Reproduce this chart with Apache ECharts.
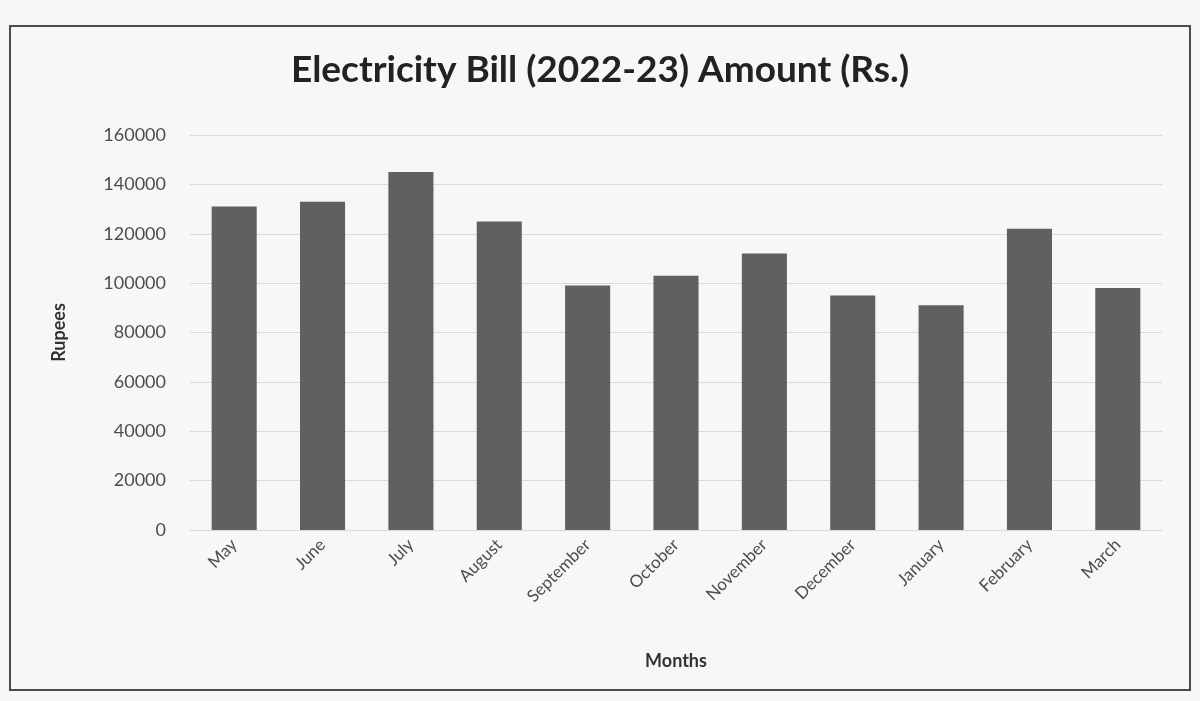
<!DOCTYPE html>
<html>
<head>
<meta charset="utf-8">
<title>Electricity Bill (2022-23)</title>
<script src="https://cdn.jsdelivr.net/npm/echarts@6/dist/echarts.min.js"></script>
<style>
  html, body { margin: 0; padding: 0; background: #f4f4f6; }
  #chart { width: 1200px; height: 701px; }
</style>
</head>
<body>
<div id="chart"></div>
<script>
// values
const months = ['May', 'June', 'July', 'August', 'September', 'October',
  'November', 'December', 'January', 'February', 'March'];
const amounts = [131000, 133000, 145000, 125000, 99000, 103000,
  112000, 95000, 91000, 122000, 98000];
const yTicks = [0, 20000, 40000, 60000, 80000, 100000, 120000, 140000, 160000];

const font = 'Lato, "Open Sans", sans-serif';
const chart = echarts.init(document.getElementById('chart'));

chart.setOption({
  backgroundColor: '#f7f7f9',
  textStyle: { fontFamily: font },
  graphic: [
    {
      type: 'rect',
      shape: { x: 10, y: 26, width: 1180, height: 664 },
      style: { fill: 'none', stroke: '#4a4a4a', lineWidth: 2 },
      z: -1
    }
  ],
  title: {
    text: 'Electricity Bill (2022-23) Amount (Rs.)',
    left: 'center',
    top: 47,
    textStyle: { fontFamily: font, fontSize: 37, fontWeight: 'bold', color: '#222' }
  },
  grid: { left: 190, right: 38, top: 135, bottom: 171 },
  xAxis: {
    type: 'category',
    data: months,
    name: 'Months',
    nameLocation: 'middle',
    nameGap: 122,
    nameTextStyle: { fontFamily: font, fontSize: 18, fontWeight: 'bold', color: '#333' },
    axisLine: { lineStyle: { color: '#d9d9d9' } },
    axisTick: { show: false },
    axisLabel: { rotate: 45, fontSize: 17, color: '#4d4d4d', margin: 12 }
  },
  yAxis: {
    type: 'value',
    min: yTicks[0],
    max: yTicks[yTicks.length - 1],
    interval: yTicks[1] - yTicks[0],
    name: 'Rupees',
    nameLocation: 'middle',
    nameGap: 122,
    nameTextStyle: { fontFamily: font, fontSize: 18, fontWeight: 'bold', color: '#333' },
    axisLine: { show: false },
    axisTick: { show: false },
    axisLabel: { fontSize: 18, color: '#4d4d4d', margin: 24, formatter: v => String(v) },
    splitLine: { lineStyle: { color: '#d9d9d9', width: 1 } }
  },
  series: [
    {
      name: 'Amount',
      type: 'bar',
      data: amounts,
      barWidth: '51%',
      itemStyle: { color: '#5f6062' }
    }
  ]
});
</script>
</body>
</html>
